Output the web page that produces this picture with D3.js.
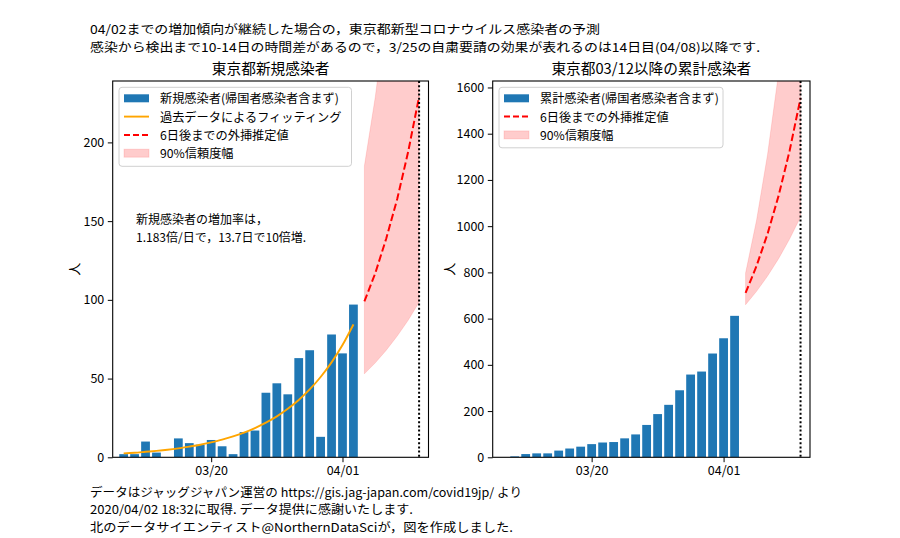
<!DOCTYPE html>
<html><head><meta charset="utf-8">
<script src="https://cdn.jsdelivr.net/npm/d3@7"></script>
<style>body{margin:0;background:#fff} text{font-family:"Noto Sans CJK JP","Noto Sans",sans-serif;fill:#000}</style>
</head><body><svg id="c" width="900" height="538"></svg>
<script>
// ---- data ----
const dailyDates = ["2020-03-12","2020-03-13","2020-03-14","2020-03-15","2020-03-16","2020-03-17","2020-03-18","2020-03-19","2020-03-20","2020-03-21","2020-03-22","2020-03-23","2020-03-24","2020-03-25","2020-03-26","2020-03-27","2020-03-28","2020-03-29","2020-03-30","2020-03-31","2020-04-01","2020-04-02"];
const newCases = [2,2,10,3,0,12,9,8,11,7,2,16,17,41,47,40,63,68,13,78,66,97];
const fitValues = [2.5,2.9,3.5,4.1,4.8,5.7,6.8,8.0,9.5,11.2,13.3,15.7,18.6,22.0,26.0,30.8,36.4,43.1,51.0,60.3,71.3,84.4];
const cumDates = ["2020-03-13","2020-03-14","2020-03-15","2020-03-16","2020-03-17","2020-03-18","2020-03-19","2020-03-20","2020-03-21","2020-03-22","2020-03-23","2020-03-24","2020-03-25","2020-03-26","2020-03-27","2020-03-28","2020-03-29","2020-03-30","2020-03-31","2020-04-01","2020-04-02"];
const cumCases = [4,14,17,17,29,38,46,57,64,66,82,99,140,187,227,290,358,371,449,515,612];
const predDates = ["2020-04-03","2020-04-04","2020-04-05","2020-04-06","2020-04-07","2020-04-08"];
const predNew = [99,117,139,164,194,229];
const predNewLow = [53,60,68,77,87,98.5];
const predNewHigh = [185,229,284,352,436,541];
const predCum = [711,828,967,1131,1325,1554];
const predCumLow = [660,718,784,859,944,1040];
const predCumHigh = [797,1026,1310,1662,2098,2639];
const xTicks = ["2020-03-20","2020-04-01"];
const leftYTicks = [0,50,100,150,200];
const rightYTicks = [0,200,400,600,800,1000,1200,1400,1600];
const xStart = "2020-03-11", xEndDays = 28.86, markDate = "2020-04-08";
const leftYMax = 239, rightYMax = 1628;

const P = s => new Date(s + "T00:00:00Z");
const DAY = 86400000;
const svg = d3.select("#c");

// header / footer
const hdr = [
  ["04/02までの増加傾向が継続した場合の，東京都新型コロナウイルス感染者の予測", 33.5, 510],
  ["感染から検出まで10-14日の時間差があるので，3/25の自粛要請の効果が表れるのは14日目(04/08)以降です.", 51.6, 670]
];
const ftr = [
  ["データはジャッグジャパン運営の https://gis.jag-japan.com/covid19jp/ より", 496.5, 432],
  ["2020/04/02 18:32に取得. データ提供に感謝いたします.", 514, 323],
  ["北のデータサイエンティスト@NorthernDataSciが，図を作成しました.", 531.5, 423]
];
function block(lines, fs){
  lines.forEach(([s,y,w]) => svg.append("text").attr("font-size",fs).attr("x",90).attr("y",y)
    .attr("textLength",w).attr("lengthAdjust","spacingAndGlyphs").text(s));
}
block(hdr, 12.4);
block(ftr, 12);

function panel(cfg){
  const {x0,x1,y0,y1} = cfg;
  const g = svg.append("g");
  const x = d3.scaleUtc().domain([P(xStart), new Date(+P(xStart)+xEndDays*DAY)]).range([x0,x1]);
  const y = d3.scaleLinear().domain([0,cfg.yMax]).range([y1,y0]);
  const cid = "clip"+cfg.id;
  svg.append("defs").append("clipPath").attr("id",cid).append("rect")
    .attr("x",x0).attr("y",y0).attr("width",x1-x0).attr("height",y1-y0);
  const pg = g.append("g").attr("clip-path",`url(#${cid})`);
  // bars
  const bw = x(new Date(+P(xStart)+0.8*DAY)) - x(P(xStart));
  pg.selectAll("rect.bar").data(cfg.barDates.map((d,i)=>({d:P(d),v:cfg.barVals[i]})))
    .enter().append("rect").attr("class","bar")
    .attr("x",d=>x(d.d)-bw/2).attr("width",bw)
    .attr("y",d=>y(d.v)).attr("height",d=>y(0)-y(d.v)).attr("fill","#1f77b4");
  // fit
  if(cfg.fit){
    pg.append("path").datum(cfg.barDates.map((d,i)=>[P(d),cfg.fit[i]]))
      .attr("d",d3.line().x(d=>x(d[0])).y(d=>y(d[1])).curve(d3.curveMonotoneX))
      .attr("fill","none").attr("stroke","orange").attr("stroke-width",1.9);
  }
  // band
  const band = predDates.map((d,i)=>({d:P(d),lo:cfg.lo[i],hi:cfg.hi[i]}));
  pg.append("path").datum(band)
    .attr("d",d3.area().x(d=>x(d.d)).y0(d=>y(d.lo)).y1(d=>y(d.hi)))
    .attr("fill","red").attr("fill-opacity",0.2).attr("stroke","red").attr("stroke-opacity",0.12).attr("stroke-width",1);
  pg.append("path").datum(predDates.map((d,i)=>[P(d),cfg.pred[i]]))
    .attr("d",d3.line().x(d=>x(d[0])).y(d=>y(d[1])))
    .attr("fill","none").attr("stroke","red").attr("stroke-width",2).attr("stroke-dasharray","7.4,3.2");
  // vertical dotted line
  pg.append("line").attr("x1",x(P(markDate))).attr("x2",x(P(markDate))).attr("y1",y0).attr("y2",y1)
    .attr("stroke","#000").attr("stroke-width",2).attr("stroke-dasharray","2,2.2");
  // axes
  const ax = g.append("g").attr("transform",`translate(0,${y1})`)
    .call(d3.axisBottom(x).tickValues(xTicks.map(P)).tickFormat(d3.utcFormat("%m/%d")).tickSize(4.9).tickPadding(4));
  const ay = g.append("g").attr("transform",`translate(${x0},0)`)
    .call(d3.axisLeft(y).tickValues(cfg.yTicks).tickFormat(d3.format("d")).tickSize(4.9).tickPadding(3.5));
  [ax,ay].forEach(a=>{a.select(".domain").remove();
    a.selectAll(".tick line").attr("stroke","#000").attr("stroke-width",1);
    a.selectAll(".tick text").attr("font-size",12.5).attr("font-family",'"Noto Sans CJK JP",sans-serif').attr("fill","#222");});
  g.append("rect").attr("x",x0).attr("y",y0).attr("width",x1-x0).attr("height",y1-y0)
    .attr("fill","none").attr("stroke","#000").attr("stroke-width",1.1);
  // title & ylabel
  g.append("text").attr("x",(x0+x1)/2).attr("y",y0-7).attr("text-anchor","middle").attr("font-size",14.7).text(cfg.title);
  g.append("text").attr("transform",`translate(${cfg.ylx},${(y0+y1)/2}) rotate(-90)`).attr("text-anchor","middle")
    .attr("dominant-baseline","central").attr("font-size",13).text("人");
  // legend
  const L = cfg.legend;
  const lg = g.append("g");
  lg.append("rect").attr("x",L.x).attr("y",L.y).attr("width",L.w).attr("height",L.items.length*18.5+5)
    .attr("rx",3).attr("fill","#fff").attr("fill-opacity",0.8).attr("stroke","#d0d0d0").attr("stroke-width",1);
  L.items.forEach((it,i)=>{
    const cy = L.y + 11 + i*18.3;
    const hx = L.x+5;
    if(it.type==="bar") lg.append("rect").attr("x",hx).attr("y",cy-4).attr("width",25).attr("height",8).attr("fill","#1f77b4");
    if(it.type==="fit") lg.append("line").attr("x1",hx).attr("x2",hx+25).attr("y1",cy).attr("y2",cy).attr("stroke","orange").attr("stroke-width",1.9);
    if(it.type==="dash") lg.append("line").attr("x1",hx).attr("x2",hx+25).attr("y1",cy).attr("y2",cy).attr("stroke","red").attr("stroke-width",2).attr("stroke-dasharray","6,3");
    if(it.type==="band") lg.append("rect").attr("x",hx).attr("y",cy-4).attr("width",25).attr("height",8).attr("fill","red").attr("fill-opacity",0.2).attr("stroke","red").attr("stroke-opacity",0.12);
    lg.append("text").attr("x",L.x+41).attr("y",cy).attr("dominant-baseline","central").attr("font-size",12.2).text(it.label);
  });
  return {g,x,y};
}

const left = panel({id:"L",x0:112.7,x1:428.5,y0:81,y1:457.3,yMax:leftYMax,yTicks:leftYTicks,
  barDates:dailyDates,barVals:newCases,fit:fitValues,pred:predNew,lo:predNewLow,hi:predNewHigh,
  title:"東京都新規感染者",ylx:73,
  legend:{x:119,y:87.3,w:232.5,items:[
    {type:"bar",label:"新規感染者(帰国者感染者含まず)"},
    {type:"fit",label:"過去データによるフィッティング"},
    {type:"dash",label:"6日後までの外挿推定値"},
    {type:"band",label:"90%信頼度幅"}]}});
left.g.append("text").attr("x",136).attr("y",224).attr("font-size",12).text("新規感染者の増加率は，");
left.g.append("text").attr("x",136).attr("y",242).attr("font-size",12).text("1.183倍/日で，13.7日で10倍増.");

panel({id:"R",x0:492.7,x1:810,y0:81,y1:457.3,yMax:rightYMax,yTicks:rightYTicks,
  barDates:cumDates,barVals:cumCases,fit:null,pred:predCum,lo:predCumLow,hi:predCumHigh,
  title:"東京都03/12以降の累計感染者",ylx:448,
  legend:{x:499,y:87.3,w:224,items:[
    {type:"bar",label:"累計感染者(帰国者感染者含まず)"},
    {type:"dash",label:"6日後までの外挿推定値"},
    {type:"band",label:"90%信頼度幅"}]}});
</script></body></html>
